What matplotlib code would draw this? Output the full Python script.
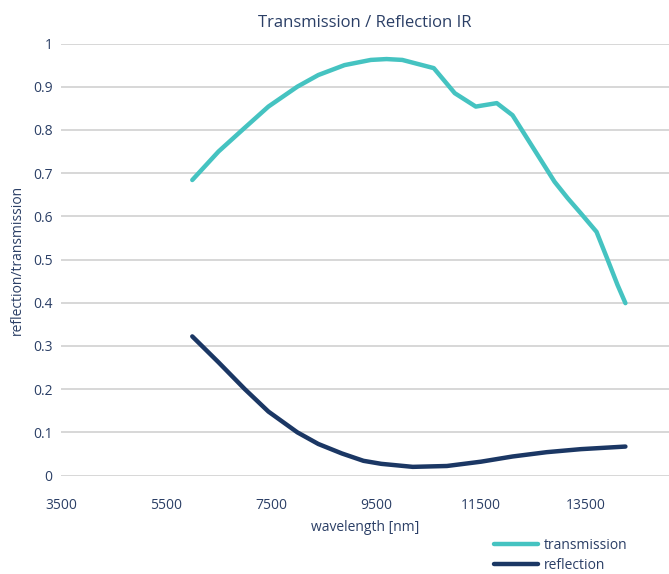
import matplotlib
matplotlib.use("Agg")
import matplotlib.pyplot as plt
import numpy as np

plt.rcParams['font.family'] = ['Open Sans', 'DejaVu Sans']

# transmission curve
trans_x = [6000, 6500, 7000, 7450, 8000, 8400, 8900, 9400, 9700, 10000,
           10600, 11000, 11400, 11800, 12100, 12500, 12900, 13150, 13400, 13700,
           13900, 14100, 14250]
trans_y = [0.684, 0.750, 0.805, 0.854, 0.900, 0.927, 0.950, 0.962, 0.964, 0.962,
           0.943, 0.885, 0.854, 0.862, 0.834, 0.757, 0.680, 0.642, 0.607, 0.564,
           0.503, 0.441, 0.399]

# reflection curve
refl_x = [6000, 6500, 7000, 7450, 8000, 8400, 8850, 9260, 9600, 10200,
          10850, 11500, 12100, 12750, 13400, 14250]
refl_y = [0.322, 0.262, 0.200, 0.148, 0.100, 0.073, 0.051, 0.034, 0.027, 0.020,
          0.022, 0.032, 0.044, 0.054, 0.061, 0.067]

x_ticks = [3500, 5500, 7500, 9500, 11500, 13500]
y_ticks = [0, 0.1, 0.2, 0.3, 0.4, 0.5, 0.6, 0.7, 0.8, 0.9, 1]
y_labels = ["0", "0.1", "0.2", "0.3", "0.4", "0.5", "0.6", "0.7", "0.8", "0.9", "1"]

text_col = "#2b3f66"
teal = "#45c3c1"
navy = "#1b3764"

fig = plt.figure(figsize=(6.69, 5.74), dpi=100)
ax = fig.add_axes([0.0912, 0.1716, 0.9088, 0.7526])

ax.plot(trans_x, trans_y, color=teal, lw=3.2, solid_capstyle="round",
        solid_joinstyle="round", label="transmission", zorder=3)
ax.plot(refl_x, refl_y, color=navy, lw=3.2, solid_capstyle="round",
        solid_joinstyle="round", label="reflection", zorder=3)

ax.set_xlim(3500, 15080)
ax.set_ylim(0, 1)
ax.set_xticks(x_ticks)
ax.set_yticks(y_ticks)
ax.set_yticklabels(y_labels)
ax.tick_params(length=0, labelsize=10, colors=text_col, pad=6)
ax.tick_params(axis="x", pad=16)
ax.yaxis.grid(True, color="#d4d4d4", lw=1.3)
ax.set_axisbelow(True)
for s in ax.spines.values():
    s.set_visible(False)

ax.set_title("Transmission / Reflection IR", fontsize=12, color=text_col, pad=12)
ax.set_xlabel("wavelength [nm]", fontsize=10, color=text_col, labelpad=5)
ax.set_ylabel("reflection/transmission", fontsize=10, color=text_col, labelpad=6)

ax.legend(loc="upper left", bbox_to_anchor=(0.70, -0.128), frameon=False,
          fontsize=10, labelcolor=text_col, handlelength=3.2, handletextpad=0.4,
          labelspacing=0.36, borderpad=0)

fig.savefig("out.png", dpi=100)
